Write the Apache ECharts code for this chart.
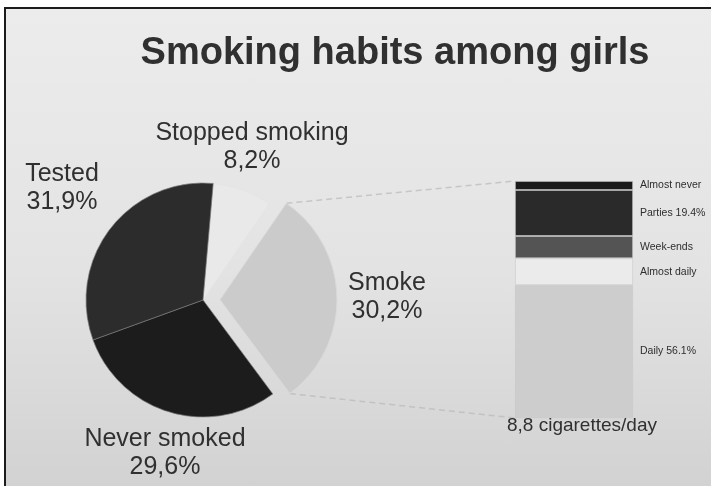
<!DOCTYPE html>
<html>
<head>
<meta charset="utf-8">
<script src="https://cdn.jsdelivr.net/npm/echarts@6/dist/echarts.min.js"></script>
<style>
  html, body { margin: 0; padding: 0; background: #ffffff; }
  #frame {
    position: absolute; left: 4px; top: 7px; width: 707px; height: 479px;
    border-left: 2px solid #1c1c1c; border-top: 2px solid #1c1c1c;
    background: linear-gradient(180deg, #ececec 0%, #e3e3e3 55%, #d2d2d2 100%);
    box-sizing: border-box;
  }
  #chart { position: absolute; left: 0; top: 0; width: 711px; height: 486px; }
</style>
</head>
<body>
<div id="frame"></div>
<div id="chart"></div>
<script>
// Smoking status of girls (percent)
const statusNames  = ['Stopped smoking', 'Smoke', 'Never smoked', 'Tested'];
const statusValues = [8.2, 30.2, 29.6, 31.9];
const statusColors = ['#e9e9e9', '#cbcbcb', '#1c1c1c', '#2c2c2c'];
const statusBorders = ['#e4e4e4', '#d9d9d9', 'rgba(120,120,120,0.7)', 'rgba(120,120,120,0.7)'];

// Breakdown of current smokers by frequency (percent, top to bottom)
const freqNames     = ['Almost never', 'Parties', 'Week-ends', 'Almost daily', 'Daily'];
const freqValues    = [3.8, 19.4, 9.4, 11.3, 56.1];
const freqShowValue = [false, true, false, false, true];
const freqColors    = ['#1a1a1a', '#2a2a2a', '#545454', '#ebebeb', '#cdcdcd'];

const cigarettesPerDay = 8.8;

const fmtComma = v => v.toFixed(1).replace('.', ',');

// Pie geometry
const pieCenter = [203, 300];
const pieRadius = 117;
const pieStart = 85;          // degrees, ECharts convention
const explode = 17;

// Label anchor points for the pie slices
const pieLabelAt = {
  'Stopped smoking': [252, 147],
  'Smoke': [392, 301],
  'Never smoked': [165, 453],
  'Tested': [62, 188]
};

// Bar geometry
const bar = { left: 515, top: 181, width: 118, height: 237 };

const chart = echarts.init(document.getElementById('chart'), null, { renderer: 'canvas' });

const barSeries = freqNames.map((n, i) => ({
  name: n,
  type: 'bar',
  stack: 'freq',
  barWidth: '100%',
  data: [freqValues[i]],
  itemStyle: { color: freqColors[i], borderColor: 'rgba(200,200,200,0.7)', borderWidth: 0.8 },
  label: {
    show: true,
    position: 'right',
    distance: 7,
    fontFamily: 'Liberation Sans',
    fontSize: 10.5,
    color: '#2e2e2e',
    formatter: () => freqShowValue[i] ? n + ' ' + freqValues[i].toFixed(1) + '%' : n
  },
  emphasis: { disabled: true },
  silent: true,
  animation: false
}));

chart.setOption({
  animation: false,
  title: {
    text: 'Smoking habits among girls',
    left: 390,
    top: 30,
    textAlign: 'center',
    textStyle: { fontFamily: 'Liberation Sans', fontWeight: 'bold', fontSize: 38, color: '#303030' }
  },
  grid: { left: bar.left, top: bar.top, width: bar.width, height: bar.height, containLabel: false },
  xAxis: { type: 'category', data: [''], show: false },
  yAxis: { type: 'value', min: 0, max: 100, inverse: true, show: false },
  series: [
    {
      type: 'pie',
      center: pieCenter,
      radius: [0, pieRadius],
      startAngle: pieStart,
      clockwise: true,
      selectedMode: 'single',
      selectedOffset: explode,
      avoidLabelOverlap: false,
      data: statusNames.map((n, i) => ({
        name: n,
        value: statusValues[i],
        selected: n === 'Smoke',
        itemStyle: { color: statusColors[i], borderColor: statusBorders[i], borderWidth: 1 }
      })),
      label: {
        show: true,
        position: 'outside',
        fontFamily: 'Liberation Sans',
        fontSize: 25,
        lineHeight: 28,
        color: '#303030',
        align: 'center',
        formatter: p => p.name + '\n' + fmtComma(p.value) + '%'
      },
      labelLine: { show: false },
      labelLayout: p => {
        const pos = pieLabelAt[statusNames[p.dataIndex]];
        return { x: pos[0], y: pos[1], align: 'center', verticalAlign: 'middle' };
      },
      emphasis: { disabled: true },
      silent: true
    },
    ...barSeries
  ]
});

// Connector lines from the exploded slice to the breakdown bar
const total = statusValues.reduce((a, b) => a + b, 0);
const before = statusValues[0];
const a0 = (90 - pieStart) + before / total * 360;             // clockwise from 12 o'clock
const a1 = a0 + statusValues[1] / total * 360;
const mid = (a0 + a1) / 2 * Math.PI / 180;
const cx = pieCenter[0] + explode * Math.sin(mid);
const cy = pieCenter[1] - explode * Math.cos(mid);
const corner = a => {
  const r = a * Math.PI / 180;
  return [cx + pieRadius * Math.sin(r), cy - pieRadius * Math.cos(r)];
};
const p0 = corner(a0), p1 = corner(a1);
const barTop = chart.convertToPixel({ gridIndex: 0 }, [0, 0]);
const barBot = chart.convertToPixel({ gridIndex: 0 }, [0, 100]);
const barLeft = barTop[0] - bar.width / 2;

chart.setOption({
  graphic: [
    {
      type: 'line', silent: true, z: 0,
      shape: { x1: p0[0], y1: p0[1], x2: barLeft, y2: barTop[1] },
      style: { stroke: '#c6c6c6', lineWidth: 1.5, lineDash: [6, 4] }
    },
    {
      type: 'line', silent: true, z: 0,
      shape: { x1: p1[0], y1: p1[1], x2: barLeft, y2: barBot[1] },
      style: { stroke: '#c2c2c2', lineWidth: 1.5, lineDash: [6, 4] }
    },
    {
      type: 'text', silent: true,
      left: 507, top: 416,
      style: {
        text: fmtComma(cigarettesPerDay) + ' cigarettes/day',
        fontFamily: 'Liberation Sans', fontSize: 19, fill: '#303030'
      }
    }
  ]
});
</script>
</body>
</html>
